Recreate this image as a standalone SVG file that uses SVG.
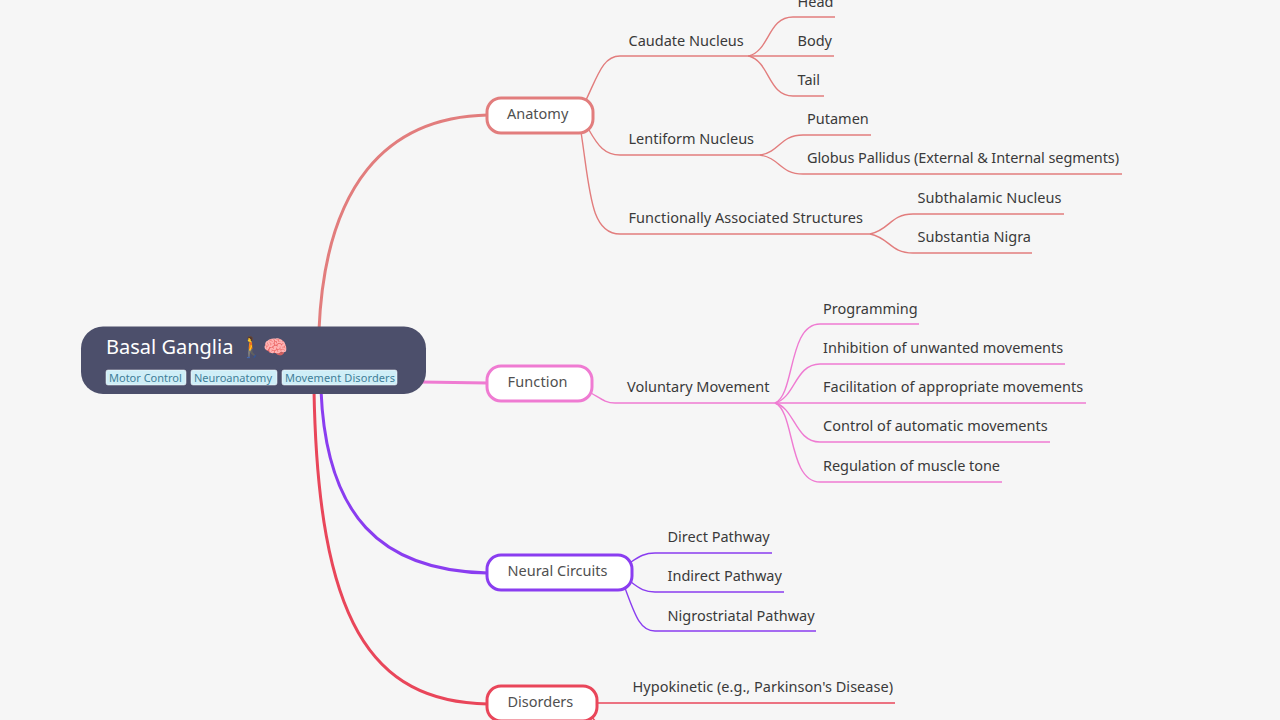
<svg xmlns="http://www.w3.org/2000/svg" width="1280" height="720" viewBox="0 0 1280 720">
<style>
text{font-family:"Noto Sans","Open Sans","Liberation Sans",sans-serif;font-size:14.5px;fill:#3a3a3a}
.c{fill:none;stroke-width:1.4}
.m{fill:none;stroke-width:3}
.n{fill:#fff;stroke-width:3}
.n+text{fill:#505050}
.a{stroke:#e27d7d}.f{stroke:#ef7bd2}.u{stroke:#8a3df0}.d{stroke:#e9465a}
.tag{fill:#cfeef7;stroke:#fff;stroke-width:.5}
.tt{font-size:11px;fill:#3f7f99}
</style>
<rect width="1280" height="720" fill="#f6f6f6"/>
<g id="connectors">
<path class="m a" d="M319 330C325 187 385 117 488 115"/>
<path class="m f" d="M420 382L488 383"/>
<path class="m u" d="M321 390C326 515 380 571 488 573"/>
<path class="m d" d="M314 390C318 620 370 702 488 704"/>
<path class="c a" d="M586 100C598 75 603 56 620 56H750"/>
<path class="c a" d="M589 130C598 146 605 155 620 155H760"/>
<path class="c a" d="M581 132C590 190 590 234 620 234H870"/>
<path class="c a" d="M749 56C770 50 768 17 793 17H835"/>
<path class="c a" d="M748 56H834"/>
<path class="c a" d="M749 56C770 62 768 96 793 96H824"/>
<path class="c a" d="M760 155C780 152 780 135 803 135H871"/>
<path class="c a" d="M760 155C780 158 780 174 803 174H1122"/>
<path class="c a" d="M870 234C890 230 890 214 913 214H1064"/>
<path class="c a" d="M870 234C890 238 890 253 913 253H1032"/>
<path class="c f" d="M591 393C600 398 605 403 615 403H776"/>
<path class="c f" d="M775 403C795 395 788 324 820 324H919"/>
<path class="c f" d="M775 403C795 398 795 364 820 364H1065"/>
<path class="c f" d="M775 403H1086"/>
<path class="c f" d="M775 403C795 408 795 442 820 442H1050"/>
<path class="c f" d="M775 403C795 411 788 482 820 482H1002"/>
<path class="c u" d="M631 562C640 556 645 553 655 553H772"/>
<path class="c u" d="M631 582C640 589 645 592 655 592H784"/>
<path class="c u" d="M625 588C635 615 640 631 655 631H816"/>
<path class="c d" d="M597 703H895"/>
<path class="c d" d="M591 716L596 722"/>
</g>
<g id="root"><rect x="81" y="326.500" width="345" height="67.500" rx="22" fill="#4c4f6b"/>
<text x="106" y="354" style="font-size:20px;fill:#fff">Basal Ganglia <tspan letter-spacing="-3">🚶 </tspan>🧠</text>
<rect class="tag" x="106" y="370" width="80" height="15" rx="2"/><text class="tt" x="109" y="382">Motor Control</text>
<rect class="tag" x="191" y="370" width="86" height="15" rx="2"/><text class="tt" x="194" y="382">Neuroanatomy</text>
<rect class="tag" x="282" y="370" width="115" height="15" rx="2"/><text class="tt" x="285" y="382" textLength="110">Movement Disorders</text></g>
<g id="anatomy"><rect class="n a" x="487" y="98" width="106" height="35" rx="14"/><text x="507" y="119">Anatomy</text></g>
<g id="function"><rect class="n f" x="487" y="366" width="105" height="35" rx="14"/><text x="507.500" y="387" textLength="60">Function</text></g>
<g id="circuits"><rect class="n u" x="487" y="555" width="145" height="35" rx="14"/><text x="507.500" y="576">Neural Circuits</text></g>
<g id="disorders"><rect class="n d" x="487" y="686" width="110" height="35" rx="14"/><text x="507.500" y="707">Disorders</text></g>
<g id="labels">
<text x="628.500" y="46">Caudate Nucleus</text>
<text x="628.500" y="144">Lentiform Nucleus</text>
<text x="628.500" y="223" textLength="234.500">Functionally Associated Structures</text>
<text x="797.500" y="7">Head</text><text x="797.500" y="46">Body</text><text x="797.500" y="85">Tail</text>
<text x="807" y="124">Putamen</text><text x="807" y="163" textLength="312">Globus Pallidus (External &amp; Internal segments)</text>
<text x="917.500" y="203" textLength="144">Subthalamic Nucleus</text><text x="917.500" y="242">Substantia Nigra</text>
<text x="627" y="392">Voluntary Movement</text>
<text x="823" y="314">Programming</text><text x="823" y="353">Inhibition of unwanted movements</text><text x="823" y="392">Facilitation of appropriate movements</text><text x="823" y="431">Control of automatic movements</text><text x="823" y="471" textLength="177">Regulation of muscle tone</text>
<text x="667.500" y="542">Direct Pathway</text><text x="667.500" y="581">Indirect Pathway</text><text x="667.500" y="621">Nigrostriatal Pathway</text>
<text x="632.500" y="692" textLength="260.500">Hypokinetic (e.g., Parkinson's Disease)</text>
</g>
</svg>
